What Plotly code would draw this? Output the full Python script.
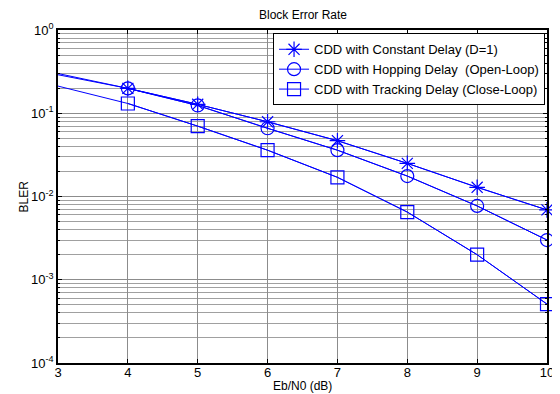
import plotly.graph_objects as go

ebn0 = [3, 4, 5, 6, 7, 8, 9, 10]
bler_constant = [0.30, 0.199, 0.128, 0.079, 0.0468, 0.025, 0.0129, 0.0069]
bler_hopping = [0.29, 0.199, 0.124, 0.066, 0.036, 0.0176, 0.0077, 0.0030]
bler_tracking = [0.212, 0.131, 0.070, 0.036, 0.0170, 0.0065, 0.0020, 0.00051]

names = ["CDD with Constant Delay (D=1)",
         "CDD with Hopping Delay  (Open-Loop)",
         "CDD with Tracking Delay (Close-Loop)"]
symbols = ["asterisk-open", "circle-open", "square-open"]
series = [bler_constant, bler_hopping, bler_tracking]

ytickvals = [1, 0.1, 0.01, 0.001, 0.0001]
yticktext = ["10<sup>0</sup>", "10<sup>-1</sup>", "10<sup>-2</sup>", "10<sup>-3</sup>", "10<sup>-4</sup>"]
minor_vals = [m * 10 ** e for e in range(-4, 0) for m in range(2, 10)]

blue = "rgb(0,0,255)"
fig = go.Figure()
for name, sym, ys in zip(names, symbols, series):
    fig.add_trace(go.Scatter(x=ebn0, y=ys, mode="lines", showlegend=False,
                             line=dict(color=blue, width=1), hoverinfo="skip"))
    fig.add_trace(go.Scatter(x=ebn0[1:], y=ys[1:], mode="lines+markers", name=name,
                             line=dict(color=blue, width=1), cliponaxis=False,
                             marker=dict(symbol=sym, size=13, color=blue,
                                         line=dict(color=blue, width=1.2))))

# page body has an 8px margin, so the figure is drawn 8px in from the top-left
W, H = 552, 386
ML, MR, MT, MB = 50, 13, 22, 31
PW, PH = W - ML - MR, H - MT - MB
font = dict(family="Liberation Sans, Arial, sans-serif", size=12, color="black")
fig.update_layout(
    width=W, height=H,
    margin=dict(l=ML, r=MR, t=MT, b=MB),
    paper_bgcolor="white", plot_bgcolor="white",
    font=font,
    xaxis=dict(range=[3, 10], tickvals=list(range(3, 11)), showgrid=True,
               automargin=False,
               gridcolor="#8c8c8c", gridwidth=1, zeroline=False,
               showline=True, linecolor="black", linewidth=1.5, mirror="ticks",
               ticks="inside", ticklen=4, tickcolor="black",
               ticklabelstandoff=-3,
               tickfont=dict(size=13)),
    yaxis=dict(type="log", range=[-4, 0], tickvals=ytickvals, ticktext=yticktext,
               automargin=False,
               showgrid=True, gridcolor="#8c8c8c", gridwidth=1, zeroline=False,
               showline=True, linecolor="black", linewidth=1.5, mirror="ticks",
               ticks="inside", ticklen=4, tickcolor="black",
               minor=dict(tickmode="array", tickvals=minor_vals, showgrid=True,
                          gridcolor="#a0a0a0", gridwidth=1, ticks="inside",
                          ticklen=2, tickcolor="black"),
               tickfont=dict(size=13)),
    legend=dict(x=0.996, y=0.99, xanchor="right", yanchor="top",
                bgcolor="white", bordercolor="black", borderwidth=1,
                font=dict(size=13), tracegroupgap=0, itemwidth=30),
    annotations=[
        dict(text="Block Error Rate", xref="paper", yref="paper", x=0.5,
             y=1 + (MT - 7.5) / PH, xanchor="center", yanchor="middle",
             showarrow=False, font=dict(size=12)),
        dict(text="Eb/N0 (dB)", xref="paper", yref="paper", x=0.5, y=-23 / PH,
             xanchor="center", yanchor="middle", showarrow=False, font=dict(size=12)),
        dict(text="BLER", xref="paper", yref="paper", x=-35 / PW, y=0.5, textangle=-90,
             xanchor="center", yanchor="middle", showarrow=False, font=dict(size=12)),
    ],
)
fig.write_html("out.html")
